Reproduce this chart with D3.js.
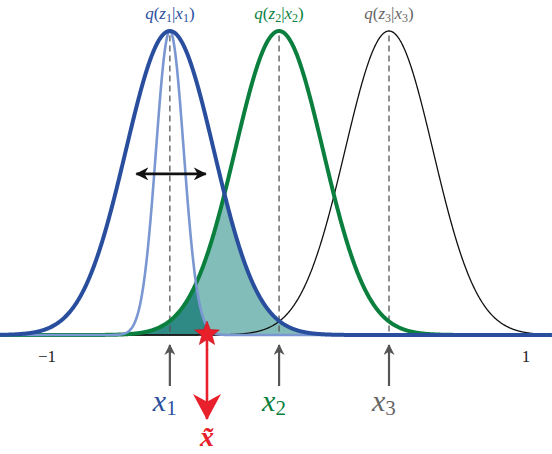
<!DOCTYPE html>
<html>
<head>
<meta charset="utf-8">
<script src="https://cdn.jsdelivr.net/npm/d3@7"></script>
<style>
  html, body { margin: 0; padding: 0; background: #fff; }
  svg { display: block; }
  text { font-family: "Liberation Serif", "DejaVu Serif", serif; }
</style>
</head>
<body>
<div id="chart"></div>
<script>
// ---- data ----
const centers = [-0.487, -0.031, 0.428];       // x1, x2, x3
const wideSigma = 0.184;
const narrowSigma = 0.058;
const xTilde = -0.332;                         // sampled point (star)
const tickValues = [-1, 1];
const tickLabels = ["\u22121", "1"];
const pointNames = ["1", "2", "3"];

const width = 552, height = 454;
const blue = "#2a4e9e", lightBlue = "#7a97d1", green = "#0b7f3e",
      red = "#e8202b", gray = "#666666";

const x = d3.scaleLinear().domain([-1, 1]).range([47, 526]);
const y = d3.scaleLinear().domain([0, 1]).range([335, 31]);

const gauss = (mu, s) => t => Math.exp(-((t - mu) ** 2) / (2 * s * s));
const xs = d3.range(x.invert(0), x.invert(width) + 0.001, 0.002);

const fBlue = gauss(centers[0], wideSigma);
const fNarrow = gauss(centers[0], narrowSigma);
const fGreen = gauss(centers[1], wideSigma);
const fBlack = gauss(centers[2], wideSigma);

const svg = d3.select("#chart").append("svg")
  .attr("width", width).attr("height", height);

const defs = svg.append("defs");
function head(id, color, w, h) {
  defs.append("marker").attr("id", id)
    .attr("viewBox", `0 ${-h/2} ${w} ${h}`)
    .attr("refX", w - 1).attr("refY", 0)
    .attr("markerUnits", "userSpaceOnUse")
    .attr("markerWidth", w).attr("markerHeight", h)
    .attr("orient", "auto-start-reverse")
    .append("path")
    .attr("d", `M0,${-h/2} L${w},0 L0,${h/2} L${w*0.3},0 Z`)
    .attr("fill", color);
}
head("hBlack", "#111", 13, 13);
head("hGray", "#555", 11, 11);
head("hRed", red, 26, 28);

const area = fn => d3.area().x(d => x(d)).y0(y(0)).y1(d => y(fn(d)))(xs);
const line = fn => d3.line().x(d => x(d)).y(d => y(fn(d)))(xs);

// overlap shading
svg.append("path").attr("d", area(t => Math.min(fBlue(t), fGreen(t))))
  .attr("fill", "#83bdb9");
svg.append("path").attr("d", area(t => Math.min(fNarrow(t), fGreen(t))))
  .attr("fill", "#2f8a86");

// baseline
svg.append("line").attr("x1", 0).attr("x2", width)
  .attr("y1", y(0)).attr("y2", y(0))
  .attr("stroke", "#444").attr("stroke-width", 1.5);

// dashed center lines
centers.forEach(c => {
  svg.append("line").attr("x1", x(c)).attr("x2", x(c))
    .attr("y1", y(0.985)).attr("y2", y(0))
    .attr("stroke", "#555").attr("stroke-width", 1.3)
    .attr("stroke-dasharray", "6,4");
});

// curves
svg.append("path").attr("d", line(fBlack)).attr("fill", "none")
  .attr("stroke", "#111").attr("stroke-width", 1.3);
svg.append("path").attr("d", line(fGreen)).attr("fill", "none")
  .attr("stroke", green).attr("stroke-width", 4);
svg.append("path").attr("d", line(fNarrow)).attr("fill", "none")
  .attr("stroke", lightBlue).attr("stroke-width", 2.6);
svg.append("path").attr("d", line(fBlue)).attr("fill", "none")
  .attr("stroke", blue).attr("stroke-width", 4);

// width double arrow
svg.append("line")
  .attr("x1", x(centers[0] - 0.14)).attr("x2", x(centers[0] + 0.15))
  .attr("y1", y(0.53)).attr("y2", y(0.53))
  .attr("stroke", "#111").attr("stroke-width", 2.6)
  .attr("marker-start", "url(#hBlack)").attr("marker-end", "url(#hBlack)");

// tick labels
tickValues.forEach((v, i) => {
  svg.append("text").attr("x", x(v)).attr("y", 362)
    .attr("text-anchor", "middle").attr("font-size", 17)
    .attr("fill", "#222").text(tickLabels[i]);
});

// gray up arrows + labels
const labColors = [blue, green, gray];
centers.forEach((c, i) => {
  svg.append("line").attr("x1", x(c)).attr("x2", x(c))
    .attr("y1", 386).attr("y2", 345)
    .attr("stroke", "#555").attr("stroke-width", 2.2)
    .attr("marker-end", "url(#hGray)");
  const t = svg.append("text").attr("x", x(c) - 17).attr("y", 411)
    .attr("fill", labColors[i]);
  t.append("tspan").attr("font-style", "italic").attr("font-size", 30).text("x");
  t.append("tspan").attr("font-size", 21).attr("dy", 4).text(pointNames[i]);
});

// top labels q(z_i|x_i)
centers.forEach((c, i) => {
  const t = svg.append("text").attr("x", x(c)).attr("y", 19)
    .attr("text-anchor", "middle").attr("fill", labColors[i])
    .attr("font-size", 17);
  t.append("tspan").attr("font-style", "italic").text("q");
  t.append("tspan").text("(");
  t.append("tspan").attr("font-style", "italic").text("z");
  t.append("tspan").attr("font-size", 12).attr("dy", 3).text(pointNames[i]);
  t.append("tspan").attr("dy", -3).text("|");
  t.append("tspan").attr("font-style", "italic").text("x");
  t.append("tspan").attr("font-size", 12).attr("dy", 3).text(pointNames[i]);
  t.append("tspan").attr("dy", -3).text(")");
});

// red sample arrow
svg.append("line").attr("x1", x(xTilde)).attr("x2", x(xTilde))
  .attr("y1", 340).attr("y2", 419)
  .attr("stroke", red).attr("stroke-width", 2.6)
  .attr("marker-end", "url(#hRed)");

// star
const star = d3.range(10).map(k => {
  const r = k % 2 === 0 ? 13 : 5.5;
  const a = -Math.PI / 2 + k * Math.PI / 5;
  return [x(xTilde) + r * Math.cos(a), y(0) - 1 + r * Math.sin(a)];
});
svg.append("path").attr("d", d3.line()(star) + "Z")
  .attr("fill", red).attr("stroke", "#c8101c").attr("stroke-width", 0.6);

// x tilde label
svg.append("text").attr("x", x(xTilde)).attr("y", 446)
  .attr("text-anchor", "middle").attr("fill", red)
  .attr("font-size", 28).attr("font-style", "italic").attr("font-weight", "bold")
  .text("x\u0303");
</script>
</body>
</html>
